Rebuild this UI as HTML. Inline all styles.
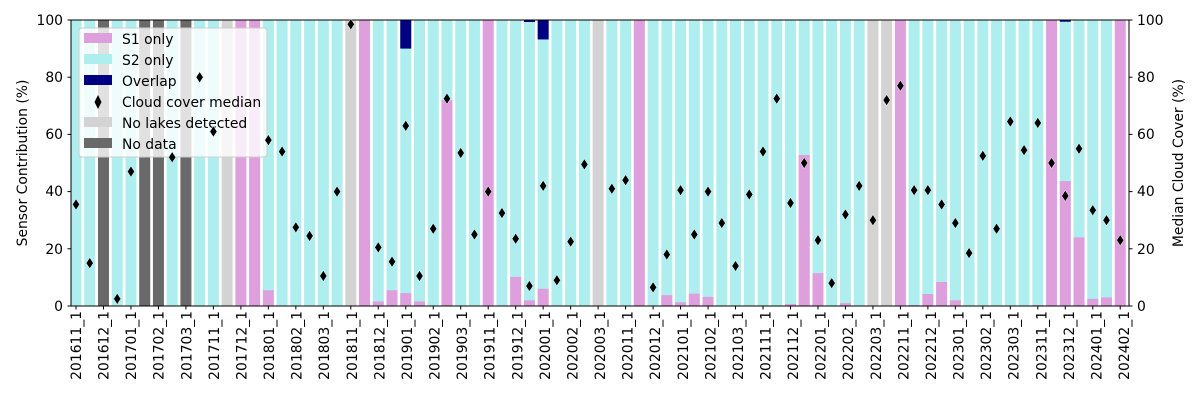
<!DOCTYPE html>
<html><head><meta charset="utf-8"><style>
body{margin:0;background:#fff}
svg text{font-family:"DejaVu Sans","Liberation Sans",sans-serif;font-size:13.9px;fill:#000}
</style></head><body>
<svg id="s" width="1200" height="400" viewBox="0 0 1200 400" xmlns="http://www.w3.org/2000/svg">
<rect width="1200" height="400" fill="#fff"/>
<g id="bars"></g>
<rect x="71" y="20" width="1058" height="286" fill="none" stroke="#000" stroke-width="1"/>
<g id="ticks" stroke="#000" stroke-width="1"></g>
<g text-anchor="end">
<text x="63" y="311">0</text><text x="63" y="254">20</text><text x="63" y="196">40</text><text x="63" y="139">60</text><text x="63" y="82">80</text><text x="63" y="25">100</text>
</g>
<g text-anchor="start">
<text x="1137" y="311">0</text><text x="1137" y="254">20</text><text x="1137" y="196">40</text><text x="1137" y="139">60</text><text x="1137" y="82">80</text><text x="1137" y="25">100</text>
</g>
<text transform="translate(27,163) rotate(-90)" text-anchor="middle">Sensor Contribution (%)</text>
<text transform="translate(1183,163) rotate(-90)" text-anchor="middle">Median Cloud Cover (%)</text>
<g text-anchor="end">
<text transform="translate(81,311) rotate(-90)">201611_1</text>
<text transform="translate(108.6,311) rotate(-90)">201612_1</text>
<text transform="translate(136.2,311) rotate(-90)">201701_1</text>
<text transform="translate(163.7,311) rotate(-90)">201702_1</text>
<text transform="translate(191.3,311) rotate(-90)">201703_1</text>
<text transform="translate(218.9,311) rotate(-90)">201711_1</text>
<text transform="translate(246.5,311) rotate(-90)">201712_1</text>
<text transform="translate(274.1,311) rotate(-90)">201801_1</text>
<text transform="translate(301.6,311) rotate(-90)">201802_1</text>
<text transform="translate(329.2,311) rotate(-90)">201803_1</text>
<text transform="translate(356.8,311) rotate(-90)">201811_1</text>
<text transform="translate(384.4,311) rotate(-90)">201812_1</text>
<text transform="translate(412,311) rotate(-90)">201901_1</text>
<text transform="translate(439.5,311) rotate(-90)">201902_1</text>
<text transform="translate(467.1,311) rotate(-90)">201903_1</text>
<text transform="translate(494.7,311) rotate(-90)">201911_1</text>
<text transform="translate(522.3,311) rotate(-90)">201912_1</text>
<text transform="translate(549.9,311) rotate(-90)">202001_1</text>
<text transform="translate(577.4,311) rotate(-90)">202002_1</text>
<text transform="translate(605,311) rotate(-90)">202003_1</text>
<text transform="translate(632.6,311) rotate(-90)">202011_1</text>
<text transform="translate(660.2,311) rotate(-90)">202012_1</text>
<text transform="translate(687.8,311) rotate(-90)">202101_1</text>
<text transform="translate(715.3,311) rotate(-90)">202102_1</text>
<text transform="translate(742.9,311) rotate(-90)">202103_1</text>
<text transform="translate(770.5,311) rotate(-90)">202111_1</text>
<text transform="translate(798.1,311) rotate(-90)">202112_1</text>
<text transform="translate(825.7,311) rotate(-90)">202201_1</text>
<text transform="translate(853.2,311) rotate(-90)">202202_1</text>
<text transform="translate(880.8,311) rotate(-90)">202203_1</text>
<text transform="translate(908.4,311) rotate(-90)">202211_1</text>
<text transform="translate(936,311) rotate(-90)">202212_1</text>
<text transform="translate(963.6,311) rotate(-90)">202301_1</text>
<text transform="translate(991.1,311) rotate(-90)">202302_1</text>
<text transform="translate(1018.7,311) rotate(-90)">202303_1</text>
<text transform="translate(1046.3,311) rotate(-90)">202311_1</text>
<text transform="translate(1073.9,311) rotate(-90)">202312_1</text>
<text transform="translate(1101.5,311) rotate(-90)">202401_1</text>
<text transform="translate(1129,311) rotate(-90)">202402_1</text>
</g>
<g>
<rect x="79" y="28" width="188" height="129" rx="3" fill="#fff" fill-opacity="0.8" stroke="#ccc" stroke-width="1"/>
<rect x="84" y="33" width="28" height="10" fill="#dda0dd"/>
<rect x="84" y="54" width="28" height="10" fill="#afeeee"/>
<rect x="84" y="75" width="28" height="10" fill="#000080"/>
<polygon points="98,95 101.5,102 98,109 94.5,102" fill="#000"/>
<rect x="84" y="117" width="28" height="10" fill="#d3d3d3"/>
<rect x="84" y="138" width="28" height="10" fill="#696969"/>
<text x="122" y="44">S1 only</text>
<text x="122" y="65">S2 only</text>
<text x="122" y="86">Overlap</text>
<text x="122" y="107">Cloud cover median</text>
<text x="122" y="128">No lakes detected</text>
<text x="122" y="149">No data</text>
</g>
<g id="marks"></g>
</svg>
<script>
var D=[
['a',0,0,35.5],['a',0,0,15],['d',0,0,null],['a',0,0,2.5],['a',0,0,47],['d',0,0,null],['d',0,0,null],['a',0,0,52],['d',0,0,null],['a',0,0,80],
['a',0,0,61],['g',0,0,null],['p',0,0,null],['p',0,0,null],['a',5.5,0,58],['a',0,0,54],['a',0,0,27.5],['a',0,0,24.5],['a',0,0,10.5],['a',0,0,40],
['g',0,0,98.5],['p',0,0,null],['a',1.6,0,20.5],['a',5.5,0,15.5],['a',4.5,10,63],['a',1.6,0,10.5],['a',0,0,27],['a',72,0,72.5],['a',0,0,53.5],['a',0,0,25],
['p',0,0,40],['a',0,0,32.5],['a',10.2,0,23.5],['a',2,0.7,7],['a',6,6.8,42],['a',0,0,9],['a',0,0,22.5],['a',0,0,49.5],['g',0,0,null],['a',0,0,41],
['a',0,0,44],['p',0,0,null],['a',0,0,6.5],['a',3.8,0,18],['a',1.3,0,40.5],['a',4.3,0,25],['a',3.2,0,40],['a',0,0,29],['a',0,0,14],['a',0,0,39],
['a',0,0,54],['a',0,0,72.5],['a',0.7,0,36],['a',52.8,0,50],['a',11.5,0,23],['a',0,0,8],['a',1,0,32],['a',0,0,42],['g',0,0,30],['g',0,0,72],
['p',0,0,77],['a',0.3,0,40.5],['a',4.2,0,40.5],['a',8.4,0,35.5],['a',2,0,29],['a',0,0,18.5],['a',0,0,52.5],['a',0,0,27],['a',0,0,64.5],['a',0,0,54.5],
['a',0.3,0,64],['p',0,0,50],['a',43.7,0.6,38.5],['a',24,0,55],['a',2.5,0,33.5],['a',3,0,30],['p',0,0,23]];
var NS="http://www.w3.org/2000/svg",b=document.getElementById('bars'),m=document.getElementById('marks'),t=document.getElementById('ticks');
function Y(v){return 306-v*2.86;}
function R(x,y0,y1,c){var r=document.createElementNS(NS,'rect');r.setAttribute('x',x);r.setAttribute('y',y1);r.setAttribute('width',11);r.setAttribute('height',Math.max(0,y0-y1));r.setAttribute('fill',c);b.appendChild(r);}
D.forEach(function(d,i){var cx=76+13.74*i,x=cx-5.5;
 if(d[0]=='p')R(x,306,20,'#dda0dd');
 else if(d[0]=='g')R(x,306,20,'#d3d3d3');
 else if(d[0]=='d')R(x,306,20,'#696969');
 else{R(x,306,20,'#afeeee');if(d[1]>0)R(x,306,Y(d[1]),'#dda0dd');if(d[2]>0)R(x,Y(100-d[2]),20,'#000080');}
 if(d[3]!=null){var y=Y(d[3]),p=document.createElementNS(NS,'polygon');p.setAttribute('points',cx+','+(y-5.5)+' '+(cx+3.6)+','+y+' '+cx+','+(y+5.5)+' '+(cx-3.6)+','+y);p.setAttribute('fill','#000');p.setAttribute('stroke','#fff');p.setAttribute('stroke-width','0.5');m.appendChild(p);}
 if(i%2==0){var l=document.createElementNS(NS,'line');l.setAttribute('x1',cx);l.setAttribute('x2',cx);l.setAttribute('y1',306);l.setAttribute('y2',309.5);t.appendChild(l);}
});
[0,20,40,60,80,100].forEach(function(v){var y=Y(v);[[67.5,71],[1129,1132.5]].forEach(function(a){var l=document.createElementNS(NS,'line');l.setAttribute('x1',a[0]);l.setAttribute('x2',a[1]);l.setAttribute('y1',y);l.setAttribute('y2',y);t.appendChild(l);});});
</script>
</body></html>
